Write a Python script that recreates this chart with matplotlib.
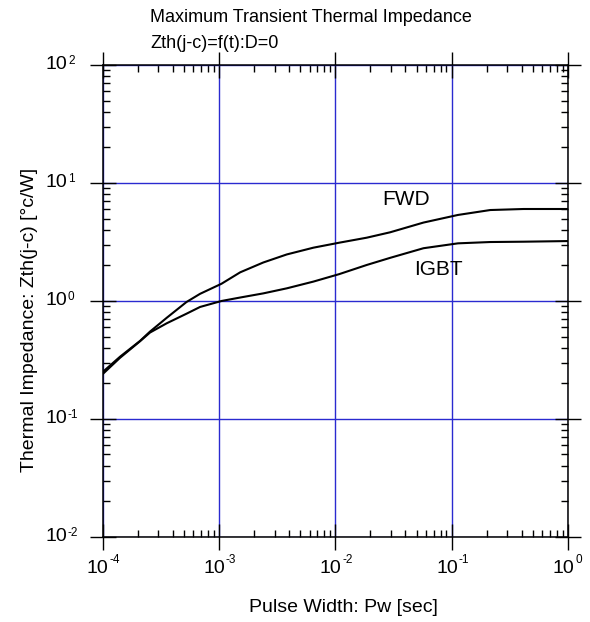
import matplotlib
matplotlib.use("Agg")
import matplotlib.pyplot as plt
from matplotlib.ticker import LogLocator, NullFormatter

plt.rcParams["font.family"] = ["Liberation Sans", "DejaVu Sans"]

# values
fwd_t = [1e-4, 1.41e-4, 2.09e-4, 2.55e-4, 3.55e-4, 5.25e-4, 6.87e-4, 1.05e-3,
         1.52e-3, 2.40e-3, 3.82e-3, 6.47e-3, 1.08e-2, 1.86e-2, 2.95e-2,
         5.71e-2, 0.113, 0.214, 0.414, 1.0]
fwd_z = [0.25, 0.337, 0.458, 0.55, 0.72, 0.98, 1.15, 1.40,
         1.75, 2.12, 2.48, 2.83, 3.12, 3.44, 3.82,
         4.62, 5.36, 5.9, 6.02, 6.02]
igbt_t = [1e-4, 1.41e-4, 2.09e-4, 2.55e-4, 3.55e-4, 5.25e-4, 6.87e-4, 1.05e-3,
          1.52e-3, 2.40e-3, 3.82e-3, 6.47e-3, 1.08e-2, 1.86e-2, 2.95e-2,
          5.71e-2, 0.113, 0.214, 0.414, 1.0]
igbt_z = [0.24, 0.33, 0.455, 0.54, 0.647, 0.78, 0.89, 1.0,
          1.07, 1.16, 1.28, 1.46, 1.69, 2.02, 2.32,
          2.80, 3.08, 3.16, 3.18, 3.22]
x_ticks = [1e-4, 1e-3, 1e-2, 1e-1, 1e0]
x_exps = ["-4", "-3", "-2", "-1", "0"]
y_ticks = [1e-2, 1e-1, 1e0, 1e1, 1e2]
y_exps = ["-2", "-1", "0", "1", "2"]

fig = plt.figure(figsize=(5.9, 6.22), dpi=100)
ax = fig.add_axes([0.174, 0.1367, 0.789, 0.7588])

ax.plot(fwd_t, fwd_z, color="black", lw=1.5)
ax.plot(igbt_t, igbt_z, color="black", lw=1.5)

ax.set_xscale("log")
ax.set_yscale("log")
ax.set_xlim(1e-4, 1)
ax.set_ylim(1e-2, 1e2)
ax.set_xticks(x_ticks)
ax.set_yticks(y_ticks)
ax.set_xticklabels([])
ax.set_yticklabels([])
ax.xaxis.set_minor_locator(LogLocator(base=10, subs=range(2, 10)))
ax.yaxis.set_minor_locator(LogLocator(base=10, subs=range(2, 10)))
ax.xaxis.set_minor_formatter(NullFormatter())
ax.yaxis.set_minor_formatter(NullFormatter())
ax.tick_params(which="major", direction="inout", length=19, width=1,
               top=True, right=True)
ax.tick_params(which="minor", direction="in", length=5, width=1,
               top=True, right=True)
ax.grid(True, which="major", color="#2a2ad0", lw=1.0)
for s in ax.spines.values():
    s.set_linewidth(1.1)

# tick labels as "10" with a small raised exponent (hyphen, not minus)
for t, e in zip(x_ticks, x_exps):
    ax.annotate("10", xy=(t, 0), xycoords=("data", "axes fraction"),
                xytext=(4.3, -16.5), textcoords="offset points",
                ha="right", va="top", fontsize=14)
    ax.annotate(e, xy=(t, 0), xycoords=("data", "axes fraction"),
                xytext=(5.0, -12.0), textcoords="offset points",
                ha="left", va="top", fontsize=8.5)
for t, e in zip(y_ticks, y_exps):
    ax.annotate("10", xy=(0, t), xycoords=("axes fraction", "data"),
                xytext=(-25.5, 0), textcoords="offset points",
                ha="right", va="center", fontsize=14)
    ax.annotate(e, xy=(0, t), xycoords=("axes fraction", "data"),
                xytext=(-25.0, 7.5), textcoords="offset points",
                ha="left", va="top", fontsize=8.5)

fig.text(343 / 590, 1 - 607 / 622, "Pulse Width: Pw [sec]", fontsize=14,
         ha="center", va="center")
fig.text(30 / 590, 1 - 320 / 622, "Thermal Impedance: Zth(j-c) [°c/W]",
         fontsize=14, ha="center", va="center", rotation=90)

ax.text(0.60, 0.714, "FWD", transform=ax.transAxes, fontsize=15, va="center")
ax.text(0.67, 0.566, "IGBT", transform=ax.transAxes, fontsize=15, va="center")

fig.text(150 / 590, 1 - 18 / 622, "Maximum Transient Thermal Impedance",
         fontsize=13, va="center")
fig.text(150 / 590, 1 - 43 / 622, "Zth(j-c)=f(t):D=0", fontsize=13, va="center")

fig.savefig("out.png", dpi=100)
